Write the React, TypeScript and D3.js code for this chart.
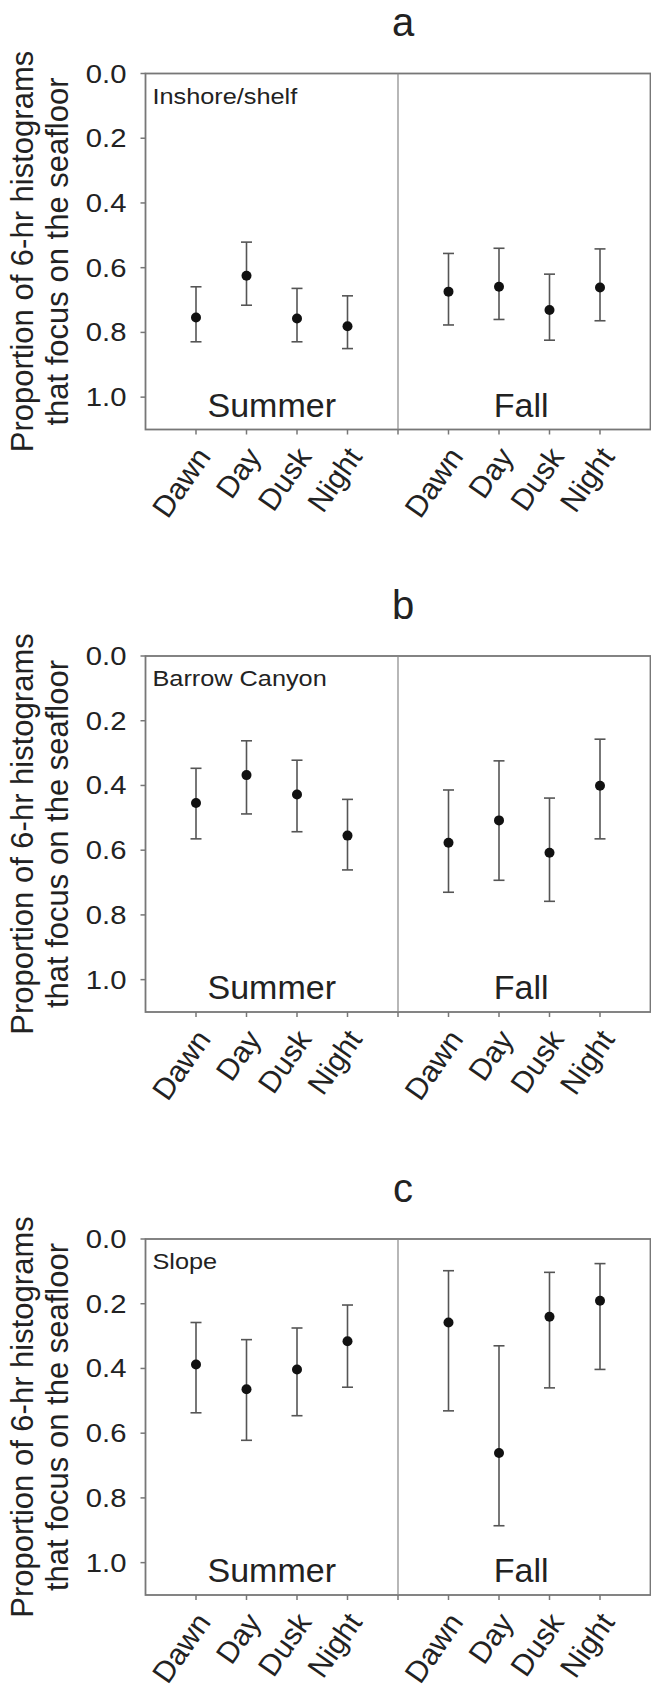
import React from "react";
import * as d3 from "d3";

const categories = ["Dawn", "Day", "Dusk", "Night"];
const seasons = ["Summer", "Fall"];
const yTicks = [0, 0.2, 0.4, 0.6, 0.8, 1.0];
const panelLetters = ["a", "b", "c"];
const regions = ["Inshore/shelf", "Barrow Canyon", "Slope"];

// order: Summer Dawn, Day, Dusk, Night, Fall Dawn, Day, Dusk, Night
const meanA = [0.754, 0.625, 0.757, 0.781, 0.674, 0.659, 0.731, 0.661];
const lowA = [0.659, 0.521, 0.664, 0.687, 0.556, 0.540, 0.620, 0.542];
const highA = [0.829, 0.716, 0.829, 0.850, 0.777, 0.760, 0.824, 0.764];

const meanB = [0.454, 0.368, 0.428, 0.555, 0.577, 0.508, 0.608, 0.401];
const lowB = [0.347, 0.262, 0.322, 0.443, 0.414, 0.324, 0.439, 0.257];
const highB = [0.565, 0.488, 0.543, 0.661, 0.730, 0.693, 0.758, 0.565];

const meanC = [0.388, 0.464, 0.403, 0.316, 0.258, 0.661, 0.240, 0.191];
const lowC = [0.258, 0.311, 0.275, 0.204, 0.098, 0.330, 0.103, 0.076];
const highC = [0.537, 0.622, 0.546, 0.458, 0.531, 0.886, 0.460, 0.403];

const panelsData = [
  { mean: meanA, low: lowA, high: highA },
  { mean: meanB, low: lowB, high: highB },
  { mean: meanC, low: lowC, high: highC },
];

const W = 651;
const H = 1688;
const LEFT = 145.5;
const RIGHT = 650.5;
const PANEL_TOPS = [73.5, 656, 1239];
const PLOT_H = 356;
const FONT = "'Liberation Sans', Arial, Helvetica, sans-serif";
const TEXT = "#222";
const AXIS = "#777";

const x = d3.scaleLinear().domain([0, 10]).range([LEFT, RIGHT]);
// category slot positions: Summer 1..4, divider at 5, Fall 6..9
const slot = (i: number) => (i < 4 ? i + 1 : i + 2);

function Panel({ idx }: { idx: number }) {
  const top = PANEL_TOPS[idx];
  const bottom = top + PLOT_H;
  const y = d3.scaleLinear().domain([0, 1.1]).range([top, bottom]);
  const d = panelsData[idx];
  const midY = (top + bottom) / 2;
  const capW = 5.5;
  const allSlots = [1, 2, 3, 4, 5, 6, 7, 8, 9];
  const labels = [...categories, ...categories];
  return (
    <g>
      <text x={403} y={top - 37.5} textAnchor="middle" fontSize={40} fill={TEXT} fontFamily={FONT}>
        {panelLetters[idx]}
      </text>
      {/* y title */}
      <g transform={`translate(33,${midY}) rotate(-90)`}>
        <text textAnchor="middle" fontSize={31} fill={TEXT} fontFamily={FONT}>
          Proportion of 6-hr histograms
        </text>
      </g>
      <g transform={`translate(68,${midY}) rotate(-90)`}>
        <text textAnchor="middle" fontSize={31} fill={TEXT} fontFamily={FONT}>
          that focus on the seafloor
        </text>
      </g>
      {/* frame */}
      <rect x={LEFT} y={top} width={RIGHT - LEFT} height={PLOT_H} fill="none" stroke={AXIS} strokeWidth={1.8} />
      <line x1={x(5)} x2={x(5)} y1={top} y2={bottom} stroke="#888" strokeWidth={1.2} />
      {/* y ticks */}
      {yTicks.map((t) => (
        <g key={t}>
          <line x1={LEFT - 5} x2={LEFT} y1={y(t)} y2={y(t)} stroke={AXIS} strokeWidth={1.5} />
          <g transform={`translate(${LEFT - 19},${y(t)}) scale(1.17,1)`}>
            <text dy="0.36em" textAnchor="end" fontSize={25} fill={TEXT} fontFamily={FONT}>
              {d3.format(".1f")(t)}
            </text>
          </g>
        </g>
      ))}
      {/* x ticks */}
      {allSlots.map((s) => (
        <line key={s} x1={x(s)} x2={x(s)} y1={bottom} y2={bottom + 5} stroke={AXIS} strokeWidth={1.5} />
      ))}
      {labels.map((lab, i) => (
        <g key={i} transform={`translate(${x(slot(i)) - 2},${bottom + 15}) rotate(-55)`}>
          <text dy="0.72em" textAnchor="end" fontSize={30} fill={TEXT} fontFamily={FONT}>
            {lab}
          </text>
        </g>
      ))}
      {/* region label */}
      <g transform={`translate(${LEFT + 7},${top + 30}) scale(1.15,1)`}>
        <text fontSize={22} fill={TEXT} fontFamily={FONT}>
          {regions[idx]}
        </text>
      </g>
      {/* season labels */}
      <text x={(x(0) + x(5)) / 2} y={bottom - 13} textAnchor="middle" fontSize={34} fill={TEXT} fontFamily={FONT}>
        {seasons[0]}
      </text>
      <text x={(x(5) + x(10)) / 2 - 3} y={bottom - 13} textAnchor="middle" fontSize={34} fill={TEXT} fontFamily={FONT}>
        {seasons[1]}
      </text>
      {/* error bars */}
      {d.mean.map((m, i) => {
        const cx = x(slot(i));
        return (
          <g key={i}>
            <line x1={cx} x2={cx} y1={y(d.low[i])} y2={y(d.high[i])} stroke="#555" strokeWidth={1.6} />
            <line x1={cx - capW} x2={cx + capW} y1={y(d.low[i])} y2={y(d.low[i])} stroke="#555" strokeWidth={1.6} />
            <line x1={cx - capW} x2={cx + capW} y1={y(d.high[i])} y2={y(d.high[i])} stroke="#555" strokeWidth={1.6} />
            <circle cx={cx} cy={y(m)} r={5} fill="#111" />
          </g>
        );
      })}
    </g>
  );
}

export default function App() {
  return (
    <svg
      width={W}
      height={H}
      viewBox={`0 0 ${W} ${H}`}
      style={{ position: "absolute", left: 0, top: 0, background: "#fff" }}
    >
      <rect x={0} y={0} width={W} height={H} fill="#fff" />
      {[0, 1, 2].map((i) => (
        <Panel key={i} idx={i} />
      ))}
    </svg>
  );
}
